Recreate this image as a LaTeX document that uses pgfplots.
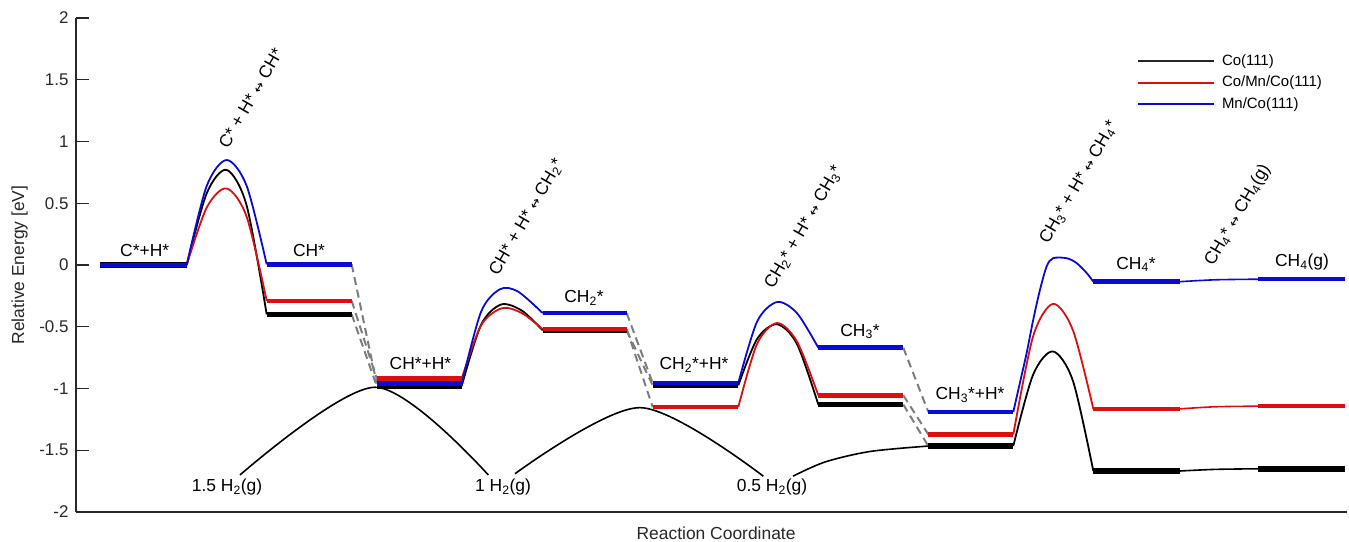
\documentclass[border=0pt]{standalone}
\usepackage{fontspec}
\setmainfont{Liberation Sans}
\newfontfamily\dejavu{DejaVu Sans}
\usepackage{pgfplots}
\pgfplotsset{compat=1.18}
\usetikzlibrary{calc}
\definecolor{cb}{RGB}{10,10,215}
\definecolor{cr}{RGB}{220,15,15}
\definecolor{ck}{RGB}{0,0,0}
\definecolor{axc}{RGB}{40,40,40}
\definecolor{dsh}{RGB}{125,125,125}
\newcommand{\fs}{\fontsize{17}{20}\selectfont}
\newcommand{\fa}{\fontsize{17.5}{20}\selectfont}
\newcommand{\fl}{\fontsize{15}{17}\selectfont}
\newcommand{\sub}[1]{\textsubscript{#1}}
\newcommand{\lra}{{\dejavu\fontsize{13}{15}\selectfont ↔}}

\begin{document}
\begin{tikzpicture}
\begin{axis}[
  scale only axis, width=1271bp, height=494bp,
  xmin=76, xmax=1347, ymin=-2, ymax=2,
  axis lines=left,
  axis line style={-, axc, line width=1.3bp},
  xtick=\empty,
  ytick={-2,-1.5,-1,-0.5,0,0.5,1,1.5,2},
  yticklabels={-2,-1.5,-1,-0.5,0,0.5,1,1.5,2},
  tick align=inside, major tick length=13bp,
  every tick/.style={axc, line width=1.3bp},
  yticklabel style={font=\fs, text=axc, xshift=-4bp},
  ylabel={Relative Energy [eV]},
  xlabel={Reaction Coordinate},
  ylabel style={font=\fa, text=axc, at={(axis description cs:-0.0443,0.5)}, anchor=center},
  xlabel style={font=\fa, text=axc, at={(axis description cs:0.5036,-0.0425)}, anchor=center},
  clip=false,
  unbounded coords=jump,
  legend style={draw=none, fill=none, inner sep=0pt, outer sep=0pt, row sep=7bp,
    column sep=7bp,
    font=\fl, at={(axis cs:1137,1.475)}, anchor=west,
    nodes={inner sep=0pt, text height=11bp, text depth=3.5bp}},
  legend cell align=left,
  legend image code/.code={\draw[#1] (0bp,0bp) -- (76bp,0bp);},
]
\coordinate (sw) at (rel axis cs:0,0);
\coordinate (ne) at (rel axis cs:1,1);

\addlegendimage{black!85, line width=2bp}
\addlegendentry{Co(111)}
\addlegendimage{cr, line width=2bp}
\addlegendentry{Co/Mn/Co(111)}
\addlegendimage{cb, line width=2bp}
\addlegendentry{Mn/Co(111)}

% H2 arcs
\addplot[ck, line width=1.6bp, smooth, forget plot] coordinates {(240,-1.70) (375,-0.99) (488.3,-1.70)};
\addplot[ck, line width=1.6bp, smooth, forget plot] coordinates {(515,-1.69) (640,-1.155) (763.3,-1.71)};
\addplot[ck, line width=1.6bp, smooth, forget plot] coordinates {(793,-1.71) (825,-1.595) (870,-1.51) (928.3,-1.466)};

% dashed connectors
\addplot[dsh, line width=2bp, dash pattern=on 8bp off 5bp, forget plot] coordinates {
 (351.7,-0.40) (376.7,-0.98) (500,nan)
 (626.7,-0.53) (652.7,-0.975) (800,nan)
 (903.3,-1.13) (928.3,-1.466)};
\addplot[dsh, line width=2bp, dash pattern=on 8bp off 5bp, forget plot] coordinates {
 (351.7,-0.29) (376.7,-0.92) (500,nan)
 (626.7,-0.52) (652.7,-1.15) (800,nan)
 (903.3,-1.055) (928.3,-1.372)};
\addplot[dsh, line width=2bp, dash pattern=on 8bp off 5bp, forget plot] coordinates {
 (351.7,0.005) (376.7,-0.96) (500,nan)
 (626.7,-0.39) (652.7,-0.955) (800,nan)
 (903.3,-0.67) (928.3,-1.19)};

% Co(111) black
\addplot[ck, line width=5.5bp, forget plot] coordinates {
 (100,0) (186.7,0) (220,nan)
 (266.7,-0.40) (351.7,-0.40) (360,nan)
 (376.7,-0.98) (461.7,-0.98) (500,nan)
 (542.7,-0.53) (626.7,-0.53) (640,nan)
 (652.7,-0.975) (738.3,-0.975) (780,nan)
 (818.3,-1.13) (903.3,-1.13) (910,nan)
 (928.3,-1.466) (1013.3,-1.466) (1050,nan)
 (1093.3,-1.668) (1180,-1.668) (1200,nan)
 (1258.3,-1.65) (1345,-1.65)};
\addplot[ck, line width=1.8bp, smooth, forget plot] coordinates {(186.7,0) (206.7,0.58) (226.7,0.77) (246.7,0.48) (266.7,-0.40)};
\addplot[ck, line width=1.8bp, smooth, forget plot] coordinates {(461.7,-0.98) (481,-0.485) (501,-0.32) (522,-0.37) (542.7,-0.53)};
\addplot[ck, line width=1.8bp, smooth, forget plot] coordinates {(738.3,-0.975) (757,-0.60) (777,-0.48) (797,-0.64) (818.3,-1.13)};
\addplot[ck, line width=1.8bp, smooth, forget plot] coordinates {(1013.3,-1.466) (1033,-0.89) (1053,-0.70) (1073,-0.94) (1093.3,-1.668)};
\addplot[ck, line width=1.6bp, smooth, forget plot] coordinates {(1180,-1.668) (1215,-1.655) (1258.3,-1.65)};

% Co/Mn/Co(111) red
\addplot[cr, line width=4.5bp, forget plot] coordinates {
 (100,0) (186.7,0) (220,nan)
 (266.7,-0.29) (351.7,-0.29) (360,nan)
 (376.7,-0.92) (461.7,-0.92) (500,nan)
 (542.7,-0.52) (626.7,-0.52) (640,nan)
 (652.7,-1.15) (738.3,-1.15) (780,nan)
 (818.3,-1.055) (903.3,-1.055) (910,nan)
 (928.3,-1.372) (1013.3,-1.372) (1050,nan)
 (1093.3,-1.165) (1180,-1.165) (1200,nan)
 (1258.3,-1.143) (1345,-1.143)};
\addplot[cr, line width=1.8bp, smooth, forget plot] coordinates {(186.7,0) (206.7,0.465) (226.7,0.62) (246.7,0.39) (266.7,-0.29)};
\addplot[cr, line width=1.8bp, smooth, forget plot] coordinates {(461.7,-0.92) (481,-0.49) (502,-0.35) (522,-0.39) (542.7,-0.52)};
\addplot[cr, line width=1.8bp, smooth, forget plot] coordinates {(738.3,-1.15) (757,-0.64) (777,-0.47) (797,-0.62) (818.3,-1.055)};
\addplot[cr, line width=1.8bp, smooth, forget plot] coordinates {(1013.3,-1.372) (1033,-0.58) (1053,-0.315) (1073,-0.53) (1093.3,-1.165)};
\addplot[cr, line width=1.6bp, smooth, forget plot] coordinates {(1180,-1.165) (1215,-1.148) (1258.3,-1.143)};

% Mn/Co(111) blue
\addplot[cb, line width=4.5bp, forget plot] coordinates {
 (100,0) (186.7,0) (220,nan)
 (266.7,0.005) (351.7,0.005) (360,nan)
 (376.7,-0.96) (461.7,-0.96) (500,nan)
 (542.7,-0.39) (626.7,-0.39) (640,nan)
 (652.7,-0.955) (738.3,-0.955) (780,nan)
 (818.3,-0.67) (903.3,-0.67) (910,nan)
 (928.3,-1.19) (1013.3,-1.19) (1050,nan)
 (1093.3,-0.135) (1180,-0.135) (1200,nan)
 (1258.3,-0.115) (1345,-0.115)};
\addplot[cb, line width=1.8bp, smooth, forget plot] coordinates {(186.7,0) (206.7,0.64) (226.7,0.85) (246.7,0.64) (266.7,0.005)};
\addplot[cb, line width=1.8bp, smooth, forget plot] coordinates {(461.7,-0.96) (481,-0.38) (500,-0.196) (518,-0.215) (542.7,-0.39)};
\addplot[cb, line width=1.8bp, smooth, forget plot] coordinates {(738.3,-0.955) (757,-0.46) (777,-0.30) (797,-0.39) (818.3,-0.67)};
\addplot[cb, line width=1.8bp, smooth, forget plot] coordinates {(1013.3,-1.19) (1020,-0.95) (1026.7,-0.71) (1033.3,-0.44) (1040,-0.20) (1046.7,-0.01) (1053,0.055) (1066.7,0.055) (1076.7,0.015) (1086.7,-0.065) (1093.3,-0.135)};
\addplot[cb, line width=1.6bp, smooth, forget plot] coordinates {(1180,-0.135) (1215,-0.12) (1258.3,-0.115)};

% level labels
\begin{scope}[every node/.style={font=\fa, inner sep=0pt, anchor=base}]
\node at (axis cs:144.7,0.067) {C*+H*};
\node at (axis cs:309,0.067) {CH*};
\node at (axis cs:420.5,-0.85) {CH*+H*};
\node at (axis cs:584,-0.305) {CH\sub{2}*};
\node at (axis cs:694,-0.85) {CH\sub{2}*+H*};
\node at (axis cs:860,-0.575) {CH\sub{3}*};
\node at (axis cs:970,-1.093) {CH\sub{3}*+H*};
\node at (axis cs:1136,-0.035) {CH\sub{4}*};
\node at (axis cs:1302,-0.014) {CH\sub{4}(g)};
\node at (axis cs:227,-1.835) {1.5 H\sub{2}(g)};
\node at (axis cs:503,-1.835) {1 H\sub{2}(g)};
\node at (axis cs:772,-1.835) {0.5 H\sub{2}(g)};
\end{scope}
\begin{scope}[every node/.style={font=\fa, inner sep=0pt, anchor=base west, rotate=60}]
\node at (axis cs:228,0.936) {C* + H* \lra{} CH*};
\node at (axis cs:498,-0.095) {CH* + H* \lra{} CH\sub{2}*};
\node at (axis cs:773.3,-0.20) {CH\sub{2}* + H* \lra{} CH\sub{3}*};
\node at (axis cs:1048.3,0.162) {CH\sub{3}* + H* \lra{} CH\sub{4}*};
\node at (axis cs:1213.3,-0.014) {CH\sub{4}* \lra{} CH\sub{4}(g)};
\end{scope}
\end{axis}
\pgfresetboundingbox
\path ($(sw)+(-76bp,-30bp)$) rectangle ($(ne)+(2bp,18bp)$);
\end{tikzpicture}
\end{document}
